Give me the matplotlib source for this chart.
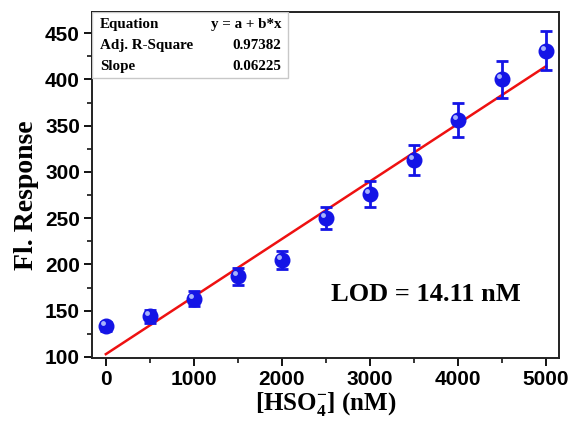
import matplotlib
matplotlib.use("Agg")
import matplotlib.pyplot as plt
import numpy as np
from matplotlib.patches import Rectangle
from matplotlib.transforms import ScaledTranslation
from matplotlib.ticker import MultipleLocator

# --- data ---
conc_nM = [0, 500, 1000, 1500, 2000, 2500, 3000, 3500, 4000, 4500, 5000]
response = [133, 144, 163, 187, 205, 250, 276, 313, 356, 400, 431]
resp_err = [5, 7, 8, 9, 10, 12, 14, 16, 18, 20, 21]

fit_intercept = 103.0
fit_slope = 0.06225

table_rows = [("Equation", "y = a + b*x"),
              ("Adj. R-Square", "0.97382"),
              ("Slope", "0.06225")]
lod_text = "LOD = 14.11 nM"

plt.rcParams['mathtext.fontset'] = 'custom'
plt.rcParams['mathtext.rm'] = 'Liberation Serif:bold'
plt.rcParams['mathtext.bf'] = 'Liberation Serif:bold'
plt.rcParams['mathtext.it'] = 'Liberation Serif:bold'

fig = plt.figure(figsize=(5.7, 4.25), dpi=100)
ax = fig.add_axes([0.161, 0.158, 0.82, 0.814])

blue = '#1414e6'

# fitted line
xf = np.array([conc_nM[0], conc_nM[-1]])
ax.plot(xf, fit_intercept + fit_slope * xf, color='#ee1111', lw=1.8, zorder=2)

# error bars + glossy markers
ax.errorbar(conc_nM, response, yerr=resp_err, fmt='none', ecolor=blue,
            elinewidth=2.0, capsize=4, capthick=2.0, zorder=3)
ax.plot(conc_nM, response, 'o', color=blue, markersize=10.5, mec=blue, zorder=4)
hl = ax.transData + ScaledTranslation(-2.2 / 72, 2.2 / 72, fig.dpi_scale_trans)
ax.plot(conc_nM, response, 'o', color='#b8c4ff', markersize=3.5, mew=0,
        transform=hl, zorder=5, alpha=0.9)

ax.set_xlim(-160, 5150)
ax.set_ylim(99, 473)
ax.xaxis.set_major_locator(MultipleLocator(1000))
ax.xaxis.set_minor_locator(MultipleLocator(500))
ax.yaxis.set_major_locator(MultipleLocator(50))
ax.yaxis.set_minor_locator(MultipleLocator(25))
ax.set_yticks(np.arange(100, 451, 50))

ax.tick_params(which='major', direction='out', length=6, width=1.3,
               top=False, right=False, pad=2.5)
ax.tick_params(which='minor', direction='out', length=3.5, width=1.1,
               top=False, right=False)
for lbl in ax.get_xticklabels() + ax.get_yticklabels():
    lbl.set_family('Liberation Sans')
    lbl.set_fontweight('bold')
    lbl.set_fontsize(15)

for s in ax.spines.values():
    s.set_linewidth(1.4)
    s.set_color('#222222')

ax.set_ylabel('Fl. Response', family='Liberation Serif', fontweight='bold',
              fontsize=20)
ax.yaxis.set_label_coords(-0.112, 0.47)
ax.set_xlabel(r'[HSO$_4^{-}$] (nM)', family='Liberation Serif',
              fontweight='bold', fontsize=18, labelpad=1)

# stats table in the upper-left corner
ax.add_patch(Rectangle((0, 0.809), 0.42, 0.191, transform=ax.transAxes,
                       facecolor='white', edgecolor='#c8c8c8', lw=1.0, zorder=6))
row_y = [0.965, 0.904, 0.842]
for (k, v), yy in zip(table_rows, row_y):
    ax.text(0.018, yy, k, transform=ax.transAxes, family='Liberation Serif',
            fontweight='bold', fontsize=10.8, va='center', ha='left', zorder=7)
    ax.text(0.405, yy, v, transform=ax.transAxes, family='Liberation Serif',
            fontweight='bold', fontsize=10.8, va='center', ha='right', zorder=7)

ax.text(3640, 167, lod_text, family='Liberation Serif', fontweight='bold',
        fontsize=19, ha='center', va='center')

fig.savefig('out.png', dpi=100)
